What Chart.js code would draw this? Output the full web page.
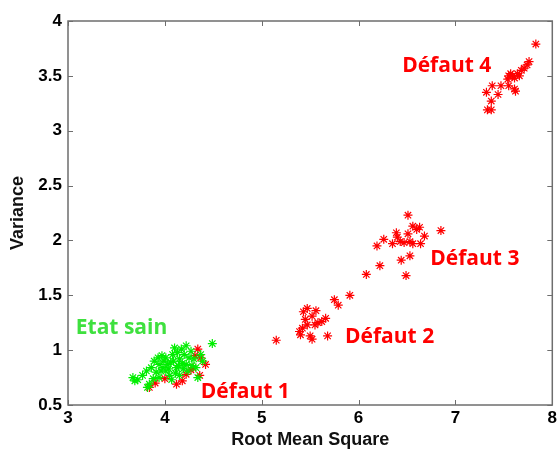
<!DOCTYPE html>
<html>
<head>
<meta charset="utf-8">
<script src="https://cdn.jsdelivr.net/npm/chart.js@4/dist/chart.umd.min.js"></script>
<style>
  html, body { margin: 0; padding: 0; background: #fff; }
  #wrap { width: 558px; height: 451px; }
</style>
</head>
<body>
<div id="wrap"><canvas id="scatter"></canvas></div>
<script>
// values
const etatSainX = [3.67,3.69,3.81,3.89,3.94,4.01,4.08,4.17,4.22,4.27,4.20,4.15,4.06,3.98,3.91,4.01,4.12,4.22,4.30,4.32,4.34,3.88,3.84,3.94,4.05,4.15,4.24,4.10,4.13,4.25,4.03,3.93,3.77,4.37,4.39,4.49,3.96,4.04,4.09,4.18,4.11,3.86,4.28,3.99,3.72,3.82,4.07,4.19,3.97,4.14];
const etatSainY = [0.75,0.72,0.81,0.90,0.87,0.93,0.96,1.01,1.04,0.99,0.96,0.92,0.89,0.84,0.80,0.81,0.84,0.87,0.92,0.84,0.75,0.74,0.69,0.75,0.77,0.77,0.81,1.02,0.98,0.93,0.87,0.93,0.77,0.96,0.90,1.06,0.81,0.83,0.90,0.88,0.79,0.84,0.86,0.90,0.73,0.66,0.73,0.83,0.95,0.86];

const defaut1X = [4.34,4.42,4.29,4.12,4.00,3.84,4.36,4.22,4.37,4.27,4.18,4.31,3.90];
const defaut1Y = [1.01,0.87,0.84,0.69,0.74,0.66,0.77,0.78,0.93,0.82,0.72,0.95,0.70];

const defaut2X = [5.15,5.40,5.39,5.42,5.47,5.55,5.62,5.66,5.52,5.43,5.47,5.56,5.50,5.52,5.68,5.75,5.79,5.91,5.45,5.58];
const defaut2Y = [1.09,1.14,1.17,1.20,1.23,1.23,1.26,1.29,1.31,1.35,1.38,1.36,1.13,1.10,1.13,1.46,1.41,1.50,1.28,1.25];

const defaut3X = [6.51,6.56,6.63,6.85,6.68,6.51,6.39,6.40,6.26,6.19,6.35,6.43,6.53,6.56,6.64,6.53,6.44,6.22,6.08,6.49,6.60,6.47];
const defaut3Y = [2.23,2.13,2.12,2.09,2.04,2.06,2.07,2.03,2.01,1.95,1.97,1.99,1.99,1.97,1.97,1.86,1.82,1.77,1.69,1.68,2.10,1.98];

const defaut4X = [7.83,7.76,7.74,7.71,7.68,7.66,7.57,7.55,7.61,7.54,7.55,7.61,7.62,7.47,7.38,7.44,7.32,7.37,7.33,7.37,7.59,7.64];
const defaut4Y = [3.79,3.63,3.60,3.57,3.55,3.50,3.52,3.50,3.48,3.47,3.41,3.38,3.36,3.41,3.41,3.33,3.35,3.27,3.19,3.19,3.50,3.52];

const xTicks = [3, 4, 5, 6, 7, 8];
const yTicks = [0.5, 1, 1.5, 2, 2.5, 3, 3.5, 4];

// class names written next to the clusters (x, y = left edge / middle)
const classNames = ['Etat sain', 'Défaut 1', 'Défaut 2', 'Défaut 3', 'Défaut 4'];
const classNameX = [3.08, 4.37, 5.86, 6.74, 6.45];
const classNameY = [1.20, 0.615, 1.12, 1.83, 3.59];
const classNameColor = ['#3ee03e', '#ff0000', '#ff0000', '#ff0000', '#ff0000'];

const toPoints = (xs, ys) => xs.map((x, i) => ({ x: x, y: ys[i] }));

function series(label, xs, ys, color) {
    return {
        label: label,
        data: toPoints(xs, ys),
        pointStyle: 'star',
        pointRadius: 4.5,
        pointBorderWidth: 1.2,
        borderColor: color,
        backgroundColor: color
    };
}

const boxAndLabels = {
    id: 'boxAndLabels',
    afterDatasetsDraw(chart) {
        const { ctx, chartArea: a, scales } = chart;
        const x = scales.x, y = scales.y;
        ctx.save();
        ctx.strokeStyle = '#6e6e6e';
        ctx.lineWidth = 1.5;
        ctx.strokeRect(a.left, a.top, a.right - a.left, a.bottom - a.top);
        ctx.lineWidth = 1;
        ctx.beginPath();
        xTicks.forEach(v => {
            const px = Math.round(x.getPixelForValue(v)) + 0.5;
            ctx.moveTo(px, a.bottom); ctx.lineTo(px, a.bottom - 5);
            ctx.moveTo(px, a.top); ctx.lineTo(px, a.top + 5);
        });
        yTicks.forEach(v => {
            const py = Math.round(y.getPixelForValue(v)) + 0.5;
            ctx.moveTo(a.left, py); ctx.lineTo(a.left + 5, py);
            ctx.moveTo(a.right, py); ctx.lineTo(a.right - 5, py);
        });
        ctx.stroke();

        ctx.font = '700 21px "Open Sans"';
        ctx.textBaseline = 'middle';
        ctx.textAlign = 'left';
        classNames.forEach((name, i) => {
            ctx.fillStyle = classNameColor[i];
            ctx.fillText(name, x.getPixelForValue(classNameX[i]), y.getPixelForValue(classNameY[i]));
        });
        ctx.restore();
    }
};

const tickFont = { family: '"Liberation Sans", Arial, sans-serif', size: 17, weight: 'bold' };
const titleFont = { family: '"Liberation Sans", Arial, sans-serif', size: 18, weight: 'bold' };

new Chart(document.getElementById('scatter'), {
    type: 'scatter',
    data: {
        datasets: [
            series('Etat sain', etatSainX, etatSainY, '#00ee00'),
            series('Défaut 1', defaut1X, defaut1Y, '#ff0000'),
            series('Défaut 2', defaut2X, defaut2Y, '#ff0000'),
            series('Défaut 3', defaut3X, defaut3Y, '#ff0000'),
            series('Défaut 4', defaut4X, defaut4Y, '#ff0000')
        ]
    },
    options: {
        responsive: true,
        maintainAspectRatio: false,
        animation: false,
        layout: { padding: { top: 21, right: 3, left: 0, bottom: 0 } },
        plugins: {
            legend: { display: false },
            tooltip: { enabled: false }
        },
        scales: {
            x: {
                type: 'linear',
                min: 3,
                max: 8,
                afterBuildTicks: s => { s.ticks = xTicks.map(v => ({ value: v })); },
                afterFit: s => { s.height = 46; s.paddingLeft = 0; s.paddingRight = 0; },
                grid: { display: false, drawTicks: false },
                border: { display: false },
                ticks: { color: '#000', font: tickFont, padding: 3, maxRotation: 0, callback: v => String(v) },
                title: { display: true, text: 'Root Mean Square', color: '#111', font: titleFont, padding: { top: 0, bottom: 0 } }
            },
            y: {
                type: 'linear',
                min: 0.5,
                max: 4,
                afterBuildTicks: s => { s.ticks = yTicks.map(v => ({ value: v })); },
                afterFit: s => { s.width = 68; s.paddingTop = 0; s.paddingBottom = 0; },
                grid: { display: false, drawTicks: false },
                border: { display: false },
                ticks: { color: '#000', font: tickFont, padding: 6, callback: v => String(v) },
                title: { display: true, text: 'Variance', color: '#111', font: titleFont, padding: { top: 7, bottom: 0 } }
            }
        }
    },
    plugins: [boxAndLabels]
});
</script>
</body>
</html>
